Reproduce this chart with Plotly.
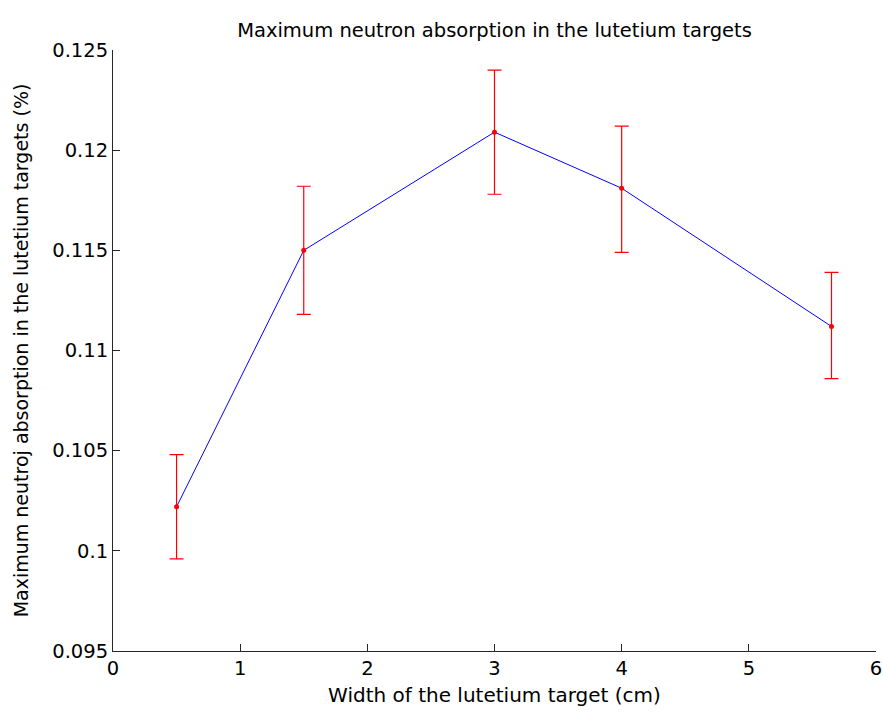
import plotly.graph_objects as go

width_cm = [0.5, 1.5, 3.0, 4.0, 5.65]
absorption = [0.1022, 0.1150, 0.1209, 0.1181, 0.1112]
err_plus = [0.0026, 0.0032, 0.0031, 0.0031, 0.0027]
err_minus = [0.0026, 0.0032, 0.0031, 0.0032, 0.0026]

x_ticks = [0, 1, 2, 3, 4, 5, 6]
x_ticktext = ["0", "1", "2", "3", "4", "5", "6"]
y_ticks = [0.095, 0.1, 0.105, 0.11, 0.115, 0.12, 0.125]
y_ticktext = ["0.095", "0.1", "0.105", "0.11", "0.115", "0.12", "0.125"]

font = "DejaVu Sans, Liberation Sans, sans-serif"

fig = go.Figure()
fig.add_trace(go.Scatter(
    x=width_cm, y=absorption, mode="lines",
    line=dict(color="#0000ff", width=1),
    showlegend=False, hoverinfo="skip",
))
fig.add_trace(go.Scatter(
    x=width_cm, y=absorption, mode="markers",
    marker=dict(color="#ff0000", size=5),
    error_y=dict(type="data", symmetric=False, array=err_plus, arrayminus=err_minus,
                 color="#ff0000", thickness=1.2, width=7),
    showlegend=False,
))

fig.update_layout(
    width=883, height=716,
    margin=dict(l=113, r=7, t=50, b=65, autoexpand=False),
    paper_bgcolor="white", plot_bgcolor="white",
    font=dict(family=font, size=18, color="#000000"),
    title=dict(text="Maximum neutron absorption in the lutetium targets",
               x=0.5, xanchor="center", xref="paper", y=1 - 30 / 716, yanchor="middle",
               font=dict(size=19.5, family=font, color="#000000")),
)
fig.update_xaxes(
    range=[0, 6], tickvals=x_ticks, ticktext=x_ticktext, automargin=False,
    showgrid=False, zeroline=False, showline=True, linecolor="#262626", linewidth=1,
    ticks="inside", ticklen=7, tickcolor="#262626",
    tickfont=dict(size=19.5),
    title=dict(text="Width of the lutetium target (cm)", font=dict(size=20), standoff=8),
)
fig.update_yaxes(
    range=[0.095, 0.125], tickvals=y_ticks, ticktext=y_ticktext, automargin=False,
    showgrid=False, zeroline=False, showline=True, linecolor="#262626", linewidth=1,
    ticks="inside", ticklen=7, tickcolor="#262626",
    tickfont=dict(size=19.5),
    title=dict(text="Maximum neutroj absorption in the lutetium targets (%)", font=dict(size=19), standoff=18),
)

fig.write_html("out.html")
